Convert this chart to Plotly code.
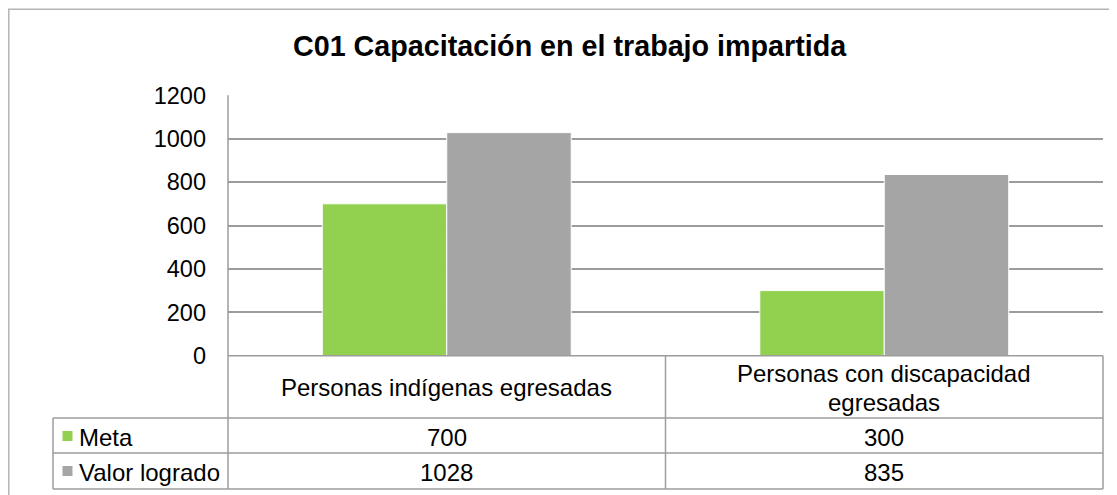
import plotly.graph_objects as go

# ─────────────────────────────────────────────
#  DATA
# ─────────────────────────────────────────────
TITLE = "C01 Capacitación en el trabajo impartida"
categories = ["Personas indígenas egresadas", "Personas con discapacidad egresadas"]
category_lines = [["Personas indígenas egresadas"], ["Personas con discapacidad", "egresadas"]]
series_names = ["Meta", "Valor logrado"]
meta = [700, 300]
valor_logrado = [1028, 835]
y_ticks = [0, 200, 400, 600, 800, 1000, 1200]

# ─────────────────────────────────────────────
#  LAYOUT HELPERS (screen pixel -> paper)
#  the page body has an 8px margin, so the figure starts at (8, 8)
# ─────────────────────────────────────────────
OFF = 8
W, H = 1109, 487
FONT = "Liberation Sans, Arial, sans-serif"
GREEN = "#92d050"
GRAY = "#a5a5a5"
LINE = "#9c9c9c"


def px(x):
    return (x - OFF) / W


def py(y):
    return 1 - (y - OFF) / H


PLOT_L, PLOT_R = 228, 1103
PLOT_T, PLOT_B = 95.3, 355.7
ROW1_B, ROW2_B, ROW3_B = 418, 453, 489
LEG_L = 53
MID = 665.5
ROW_MIDS = [436, 471]

fig = go.Figure()
colors = [GREEN, GRAY]
for name, vals, col in zip(series_names, [meta, valor_logrado], colors):
    fig.add_trace(
        go.Bar(
            x=categories,
            y=vals,
            name=name,
            marker=dict(color=col, line=dict(color="white", width=1)),
            showlegend=False,
        )
    )


def hline(y, x0, x1):
    return dict(type="line", xref="paper", yref="paper",
                x0=px(x0), x1=px(x1), y0=py(y), y1=py(y),
                line=dict(color=LINE, width=1.5), layer="above")


def vline(x, y0, y1):
    return dict(type="line", xref="paper", yref="paper",
                x0=px(x), x1=px(x), y0=py(y0), y1=py(y1),
                line=dict(color=LINE, width=1.5), layer="above")


shapes = [
    # outer chart border
    dict(type="rect", xref="paper", yref="paper",
         x0=px(8.8), x1=px(W + 40), y0=py(H + 40), y1=py(9.3),
         line=dict(color="#b4b4b4", width=1.5), layer="below"),
    # data table grid
    hline(PLOT_B, PLOT_L, PLOT_R),
    hline(ROW1_B, LEG_L, PLOT_R),
    hline(ROW2_B, LEG_L, PLOT_R),
    hline(ROW3_B, LEG_L, PLOT_R),
    vline(PLOT_L, PLOT_T, ROW3_B),
    vline(MID, PLOT_B, ROW3_B),
    vline(PLOT_R, PLOT_B, ROW3_B),
    vline(LEG_L, ROW1_B, ROW3_B),
]

# legend keys in the table
for col, yc in zip(colors, ROW_MIDS):
    shapes.append(dict(type="rect", xref="paper", yref="paper",
                       x0=px(62.5), x1=px(72.5), y0=py(yc + 5), y1=py(yc - 5),
                       fillcolor=col, line=dict(width=0)))

annotations = [
    dict(text=TITLE, xref="paper", yref="paper", x=px(570), y=py(46),
         xanchor="center", yanchor="middle", showarrow=False,
         font=dict(family=FONT, size=28.7, color="black", weight="bold")),
]

for name, yc in zip(series_names, ROW_MIDS):
    annotations.append(dict(text=name, xref="paper", yref="paper", x=px(77), y=py(yc + 1),
                            xanchor="left", yanchor="middle", showarrow=False,
                            font=dict(family=FONT, size=24, color="black")))

for cat, lines, m, v in zip(categories, category_lines, meta, valor_logrado):
    if len(lines) == 1:
        line_y = [387.5]
    else:
        line_y = [373, 402]
    for txt, ly in zip(lines, line_y):
        annotations.append(dict(text=txt, xref="x", yref="paper", x=cat, y=py(ly),
                                xanchor="center", yanchor="middle", showarrow=False,
                                font=dict(family=FONT, size=24, color="black")))
    for val, yc in zip([m, v], ROW_MIDS):
        annotations.append(dict(text=str(val), xref="x", yref="paper", x=cat, y=py(yc + 1),
                                xanchor="center", yanchor="middle", showarrow=False,
                                font=dict(family=FONT, size=24, color="black")))

fig.update_layout(
    width=W,
    height=H,
    autosize=False,
    margin=dict(l=0, r=0, t=0, b=0, pad=0, autoexpand=False),
    paper_bgcolor="white",
    plot_bgcolor="white",
    barmode="group",
    bargap=0.431,
    bargroupgap=0,
    shapes=shapes,
    annotations=annotations,
    font=dict(family=FONT, color="black"),
)

fig.update_xaxes(
    domain=[px(PLOT_L), px(PLOT_R)],
    showticklabels=False,
    showgrid=False,
    showline=False,
    zeroline=False,
    automargin=False,
    fixedrange=True,
)
fig.update_yaxes(
    domain=[py(PLOT_B), py(PLOT_T)],
    range=[0, 1200],
    tickvals=y_ticks,
    ticktext=[str(t) for t in y_ticks],
    showgrid=True,
    gridcolor=LINE,
    gridwidth=1.5,
    zeroline=False,
    showline=False,
    automargin=False,
    ticklabelstandoff=21,
    tickfont=dict(family=FONT, size=23.5, color="black"),
    fixedrange=True,
)

fig.write_html("out.html")
